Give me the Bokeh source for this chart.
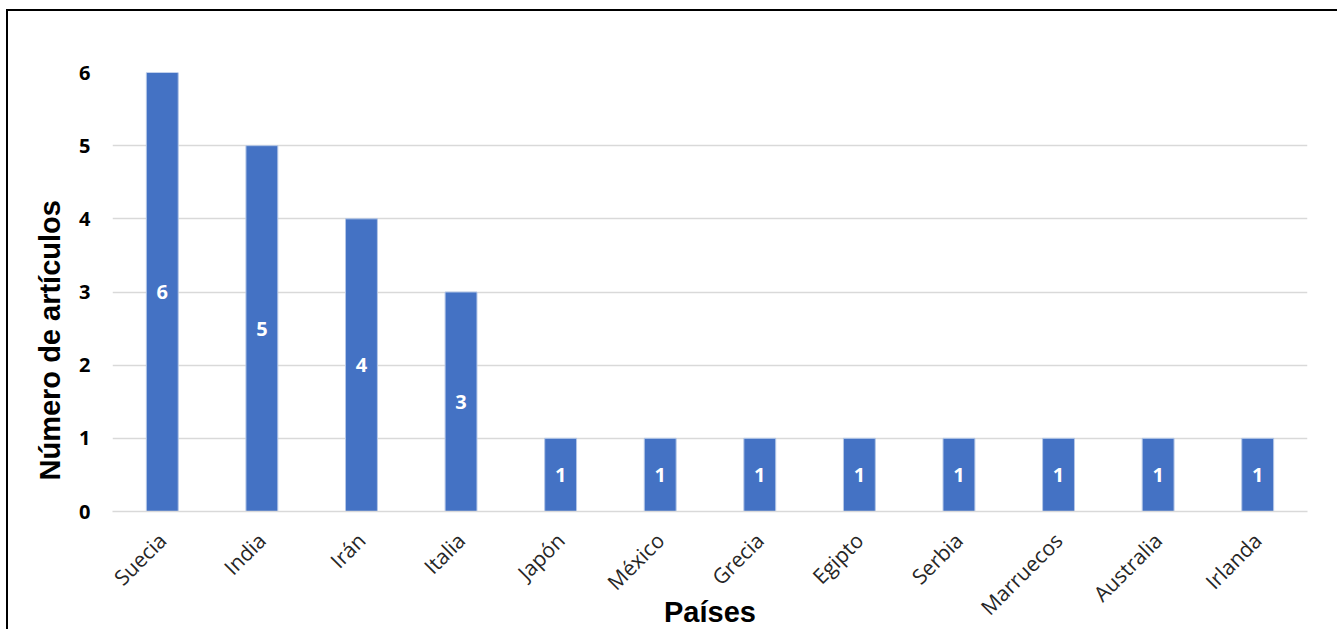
import math
from bokeh.plotting import figure
from bokeh.models import ColumnDataSource, Range1d, FactorRange, LabelSet, Title
from bokeh.core.properties import value
from bokeh.embed import file_html
from bokeh.resources import INLINE

paises = ["Suecia", "India", "Irán", "Italia", "Japón", "México", "Grecia",
          "Egipto", "Serbia", "Marruecos", "Australia", "Irlanda"]
articulos = [6, 5, 4, 3, 1, 1, 1, 1, 1, 1, 1, 1]
y_ticks = [0, 1, 2, 3, 4, 5, 6]
titulo_x = "Países"
titulo_y = "Número de artículos"

src = ColumnDataSource(dict(
    pais=paises,
    n=articulos,
    mid=[v / 2 for v in articulos],
    lab=[str(v) for v in articulos],
))

p = figure(frame_width=1195, frame_height=439,
           x_range=FactorRange(*paises, range_padding=0),
           y_range=Range1d(0, 6), output_backend="svg", toolbar_location=None,
           min_border_left=104, min_border_right=30, min_border_top=61,
           min_border_bottom=118)
p.styles = {"border-left": "2px solid black", "border-top": "2px solid black",
            "margin-left": "6px", "margin-top": "9px"}
p.outline_line_color = None

p.vbar(x="pais", top="n", width=0.32, source=src, fill_color="#4472C4",
       line_color="#b4c7e7", line_width=1)

labels = LabelSet(x="pais", y="mid", text="lab", source=src, text_color="white",
                  text_font=value("Open Sans"), text_font_style="bold",
                  text_font_size="20px", text_align="center", text_baseline="middle")
p.add_layout(labels)

p.xgrid.grid_line_color = None
p.ygrid.grid_line_color = "#d9d9d9"
p.ygrid.grid_line_width = 1.5
p.yaxis.ticker = y_ticks

p.yaxis.axis_line_color = None
p.yaxis.major_tick_line_color = None
p.yaxis.minor_tick_line_color = None
p.yaxis.major_label_text_font = "Open Sans"
p.yaxis.major_label_text_font_style = "bold"
p.yaxis.major_label_text_font_size = "20px"
p.yaxis.major_label_text_color = "black"
p.yaxis.major_label_standoff = 16

# y title as a side Title, starting a little above the frame's bottom like the original
p.add_layout(Title(text=titulo_y, align="left", offset=31, standoff=22,
                   text_font="Liberation Sans", text_font_style="bold",
                   text_font_size="29px", text_color="black"), "left")

p.xaxis.axis_line_color = "#d9d9d9"
p.xaxis.axis_line_width = 1.5
p.xaxis.major_tick_line_color = None
p.xaxis.minor_tick_line_color = None
p.xaxis.major_label_orientation = math.pi / 4
p.xaxis.major_label_text_font = "Open Sans"
p.xaxis.major_label_text_font_size = "21px"
p.xaxis.major_label_text_color = "#262626"
p.xaxis.major_label_standoff = 19
p.xaxis.axis_label = titulo_x
p.xaxis.axis_label_text_font = "Liberation Sans"
p.xaxis.axis_label_text_font_style = "bold"
p.xaxis.axis_label_text_font_size = "29px"
p.xaxis.axis_label_text_color = "black"
p.xaxis.axis_label_standoff = -38

open("out.html", "w").write(file_html(p, INLINE))
